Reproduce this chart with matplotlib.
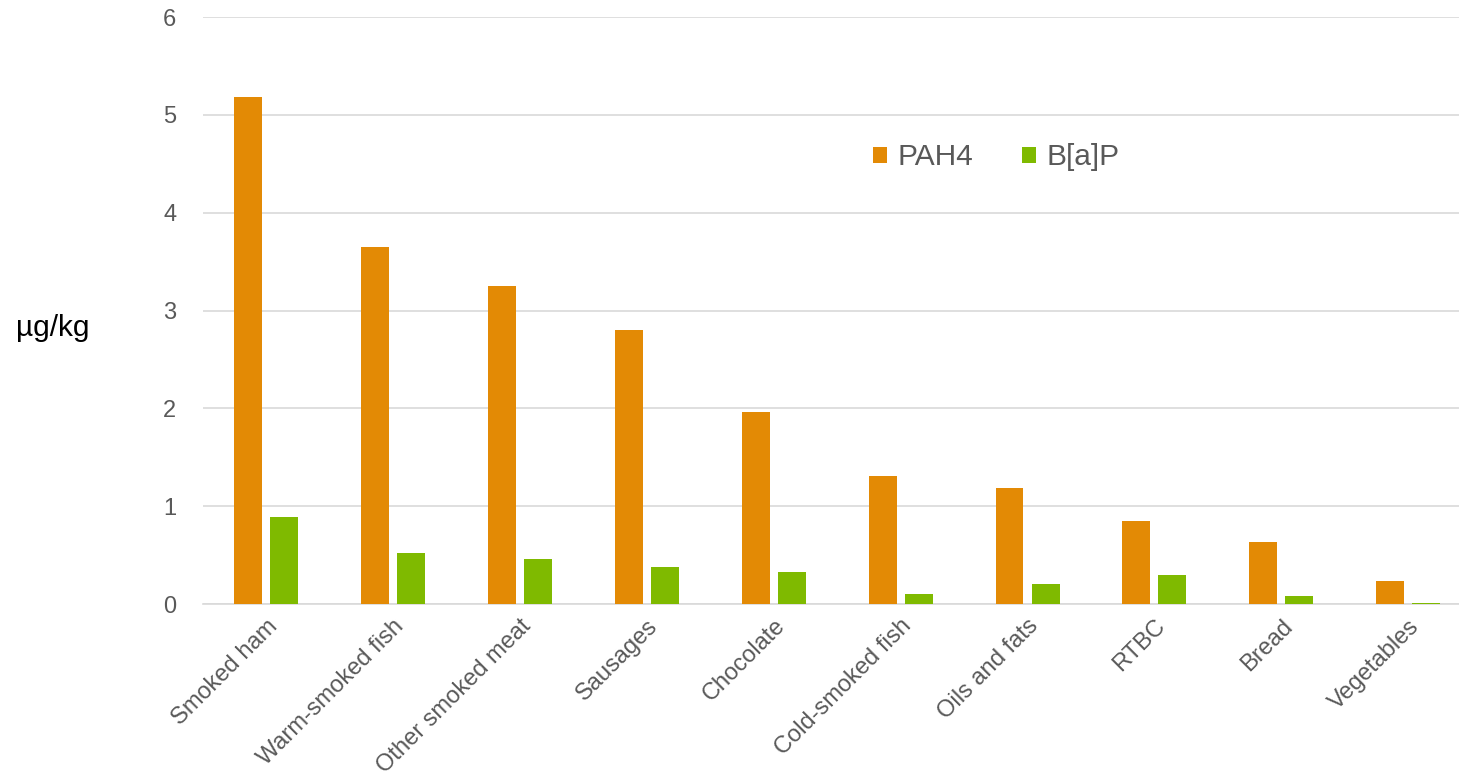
import numpy as np
import matplotlib.pyplot as plt

plt.rcParams['font.family'] = ['Liberation Sans', 'DejaVu Sans']

# Mean occurrence by food category (ug/kg)
categories = ['Smoked ham', 'Warm-smoked fish', 'Other smoked meat', 'Sausages',
              'Chocolate', 'Cold-smoked fish', 'Oils and fats', 'RTBC', 'Bread',
              'Vegetables']
pah4 = [5.18, 3.65, 3.25, 2.80, 1.96, 1.31, 1.19, 0.85, 0.63, 0.24]
bap = [0.89, 0.52, 0.46, 0.38, 0.33, 0.10, 0.20, 0.30, 0.08, 0.01]

orange = '#E38A05'
green = '#7FBA00'
text_col = '#595959'

fig = plt.figure(figsize=(14.59, 7.82), dpi=100)
# plot area runs slightly past the right edge, grid lines are clipped there
ax = fig.add_axes([0.1389, 0.2276, 0.8698, 0.7506])

x = np.arange(len(categories))
w = 0.22
ax.bar(x - 0.142, pah4, w, color=orange, label='PAH4', zorder=3)
ax.bar(x + 0.142, bap, w, color=green, label='B[a]P', zorder=3)

ax.set_xlim(-0.5, len(categories) - 0.5)
ax.set_ylim(0, 6)
ax.set_yticks(range(7))
ax.yaxis.grid(True, color='#D9D9D9', linewidth=1.2, zorder=0)
ax.tick_params(axis='y', length=0, pad=19, labelsize=17, labelcolor=text_col)
ax.tick_params(axis='x', length=0, pad=8, labelsize=17, labelcolor=text_col)
ax.set_xticks(x)
ax.set_xticklabels(categories, rotation=45, ha='right', va='top',
                   rotation_mode='anchor')
for s in ['top', 'right', 'left']:
    ax.spines[s].set_visible(False)
ax.spines['bottom'].set_color('#D9D9D9')
ax.spines['bottom'].set_linewidth(1.2)

fig.text(0.011, 0.58, 'µg/kg', fontsize=21.5, color='black', va='center')

ax.legend(loc='center', bbox_to_anchor=(0.6255, 0.761), ncol=2, frameon=False,
          fontsize=21.5, labelcolor=text_col, handlelength=0.45, handleheight=0.45,
          handletextpad=0.35, columnspacing=1.65)

fig.savefig('out.png', dpi=100)
